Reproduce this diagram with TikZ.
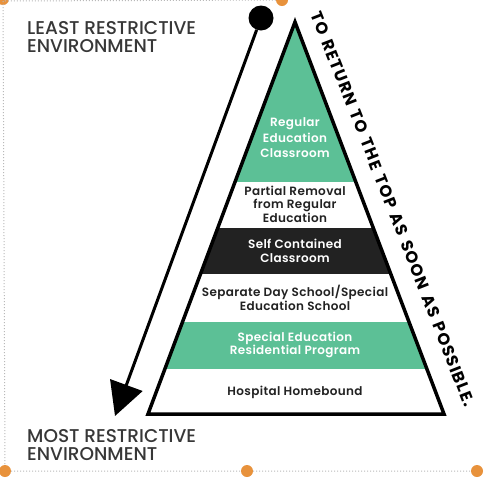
\documentclass[tikz,border=0pt]{standalone}
\usepackage{fontspec}
\setmainfont{Poppins}
\newfontfamily\semifont{Poppins SemiBold}[LetterSpace=3]
\newfontfamily\mediumfont{Poppins Medium}
\newfontfamily\slogfont{Poppins Bold}[LetterSpace=7,WordSpace=1.35]
\usetikzlibrary{arrows.meta,positioning}

\definecolor{layergreen}{RGB}{92,192,150}
\definecolor{layerblack}{RGB}{34,34,34}
\definecolor{headgray}{RGB}{55,55,55}
\definecolor{handleorange}{RGB}{232,146,60}

\begin{document}
\begin{tikzpicture}[x=1pt,y=-1pt,>={Triangle[length=33pt,width=34pt]}]
    \tikzset{layer/.style={
      align=center,
      inner sep=0pt,
      text=layerblack,
      font=\semifont\fontsize{12}{13.5}\selectfont
    }};
    \tikzset{heading/.style={
      align=left,
      anchor=north west,
      inner sep=0pt,
      text=headgray,
      font=\mediumfont\fontsize{18.5}{18}\selectfont
    }};
    \tikzset{handle/.style={
      circle,
      fill=handleorange,
      inner sep=0pt,
      minimum size=12pt
    }};

    \useasboundingbox (0,0) rectangle (493,480);

    % selection frame of the screenshot
    \node [handle] (h1) at (3,-1) {};
    \node [handle] (h2) at (282,0) {};
    \node [handle] (h3) at (5,471) {};
    \node [handle] (h4) at (247,471) {};
    \node [handle] (h5) at (477,471) {};
    \path[draw,gray!55,dotted,line width=1pt] (h2) -- (3,1) -- (h3)
      (h3) -- (h4) (h4) -- (h5);

    % the pyramid bands
    \begin{scope}
      \clip (295,22) -- (444,414) -- (148,414) -- cycle;
      \fill[layergreen] (100,0) rectangle (500,182);
      \fill[layerblack] (100,228) rectangle (500,274);
      \fill[layergreen] (100,322) rectangle (500,369);
    \end{scope}
    \draw[line width=3.5pt] (295,22) -- (444,414) -- (148,414) -- cycle;

    \node [layer, text=white, font=\semifont\fontsize{12}{15.5}\selectfont]
      (regular) at (295,138) {Regular\\Education\\Classroom};
    \node [layer] (partial) at (295,204) {Partial Removal\\from Regular\\Education};
    \node [layer, text=white] (selfcont) at (295,251) {Self Contained\\Classroom};
    \node [layer] (separate) at (295,298) {Separate Day School/Special\\Education School};
    \node [layer, text=white] (residential) at (295,345) {Special Education\\Residential Program};
    \node [layer] (hospital) at (295,392) {Hospital Homebound};

    % the two ends of the scale
    \node [heading] (least) at (27,21) {LEAST RESTRICTIVE\\ENVIRONMENT};
    \node [heading] (most) at (27,429) {MOST RESTRICTIVE\\ENVIRONMENT};

    \node [circle, fill=black, inner sep=0pt, minimum size=25pt] (dot) at (261,18) {};
    \coordinate (tipend) at (115,416);
    \path[draw,->,line width=3pt] (dot) -- (tipend);

    \node [rotate=-68.6, inner sep=0pt, font=\slogfont\fontsize{16.4}{16.4}\selectfont]
      (slogan) at (393,209) {TO RETURN TO THE TOP AS SOON AS POSSIBLE.};
\end{tikzpicture}
\end{document}
